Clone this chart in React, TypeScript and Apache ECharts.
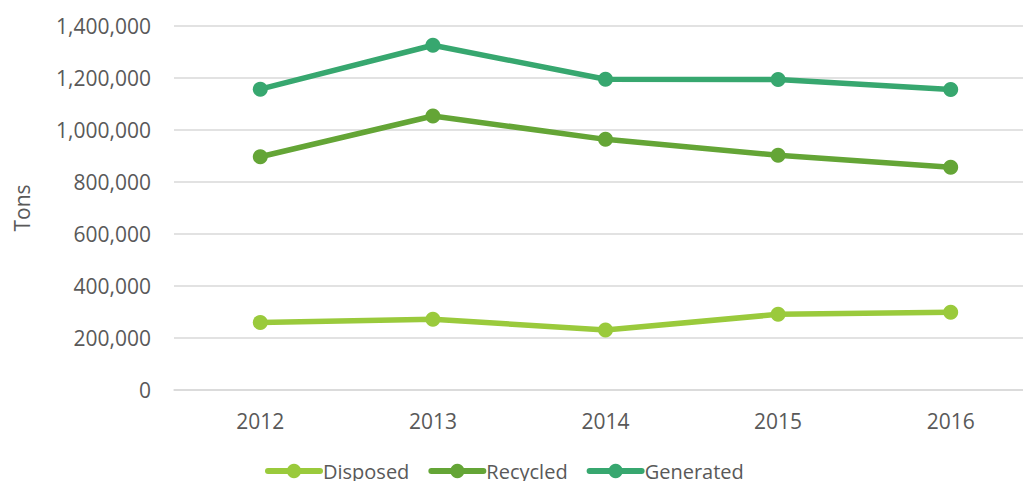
import React, { useEffect, useRef } from "react";
import * as echarts from "echarts";

const years = ["2012", "2013", "2014", "2015", "2016"];
const disposed = [260000, 272000, 231000, 291000, 299000];
const recycled = [897000, 1054000, 964000, 903000, 857000];
const generated = [1157000, 1326000, 1195000, 1194000, 1156000];
const yTicks = { min: 0, max: 1400000, interval: 200000 };

const FONT = "'Open Sans', 'Noto Sans', sans-serif";

export default function App() {
  const ref = useRef<HTMLDivElement>(null);
  useEffect(() => {
    if (!ref.current) return;
    const chart = echarts.init(ref.current, null, { renderer: "svg" });
    const mk = (name: string, data: number[], color: string) => ({
      name,
      type: "line",
      data,
      symbol: "circle",
      symbolSize: 15,
      itemStyle: { color },
      lineStyle: { color, width: 5.5 },
    });
    chart.setOption({
      animation: false,
      backgroundColor: "#ffffff",
      textStyle: { fontFamily: FONT },
      grid: { left: 174, right: 0, top: 26, bottom: 91, containLabel: false },
      legend: {
        left: 260,
        top: 456,
        itemWidth: 52,
        itemHeight: 18,
        itemGap: 19,
        lineStyle: { width: 6, cap: "round" },
        textStyle: { fontSize: 20, color: "#595959", fontFamily: FONT, padding: [0, 0, 0, -2] },
        data: ["Disposed", "Recycled", "Generated"],
      },
      xAxis: {
        type: "category",
        data: years,
        boundaryGap: true,
        axisTick: { show: false },
        axisLine: { lineStyle: { color: "#D9D9D9", width: 1.5 } },
        axisLabel: { fontSize: 21, color: "#595959", margin: 20, fontFamily: FONT },
      },
      yAxis: {
        type: "value",
        min: yTicks.min,
        max: yTicks.max,
        interval: yTicks.interval,
        name: "Tons",
        nameLocation: "middle",
        nameGap: 142,
        nameTextStyle: { fontSize: 21, color: "#595959", fontFamily: FONT },
        axisLine: { show: false },
        axisTick: { show: false },
        splitLine: { lineStyle: { color: "#D9D9D9", width: 1.5 } },
        axisLabel: {
          fontSize: 21,
          color: "#595959",
          margin: 23,
          fontFamily: FONT,
          formatter: (v: number) => v.toLocaleString("en-US"),
        },
      },
      series: [
        mk("Disposed", disposed, "#9ACA3C"),
        mk("Recycled", recycled, "#64A536"),
        mk("Generated", generated, "#37A76F"),
      ],
    });
    return () => chart.dispose();
  }, []);
  return (
    <div style={{ position: "fixed", left: 0, top: 0, width: 1023, height: 481, overflow: "hidden" }}>
      <div ref={ref} style={{ width: 1037, height: 481 }} />
    </div>
  );
}
